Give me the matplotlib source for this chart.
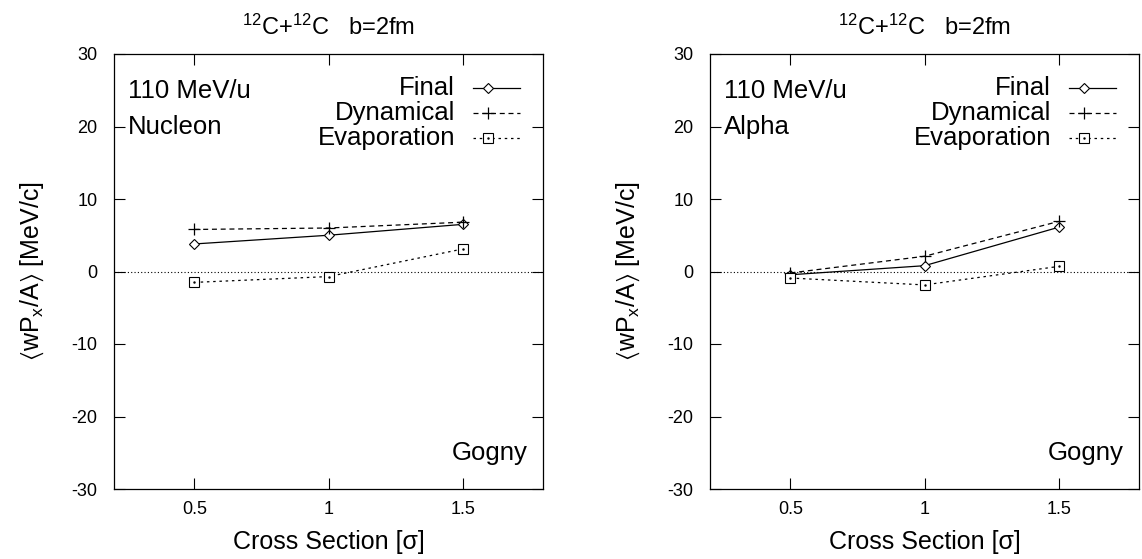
import matplotlib
matplotlib.use("Agg")
import matplotlib.pyplot as plt
from matplotlib.lines import Line2D

plt.rcParams['font.family'] = ['Liberation Sans', 'DejaVu Sans']
plt.rcParams['mathtext.fontset'] = 'custom'
plt.rcParams['mathtext.rm'] = 'Liberation Sans'
plt.rcParams['mathtext.it'] = 'Liberation Sans'
plt.rcParams['mathtext.fallback'] = 'stixsans'
plt.rcParams['axes.unicode_minus'] = False

cross_section = [0.5, 1.0, 1.5]

nucleon_final = [3.8, 5.0, 6.5]
nucleon_dynamical = [5.8, 6.0, 6.8]
nucleon_evaporation = [-1.5, -0.7, 3.1]

alpha_final = [-0.45, 0.8, 6.1]
alpha_dynamical = [-0.2, 2.1, 6.9]
alpha_evaporation = [-0.9, -1.85, 0.7]

panels = [
    ("Nucleon", nucleon_final, nucleon_dynamical, nucleon_evaporation),
    ("Alpha", alpha_final, alpha_dynamical, alpha_evaporation),
]
series_names = ["Final", "Dynamical", "Evaporation"]
xticks = [0.5, 1.0, 1.5]
xticklabels = ["0.5", "1", "1.5"]
yticks = [-30, -20, -10, 0, 10, 20, 30]

W, H = 1142, 559
fig = plt.figure(figsize=(W / 100, H / 100), dpi=100)

styles = [
    dict(color='black', lw=0.9, ls='-', marker='D', ms=5.0, mfc='white', mec='black', mew=0.8),
    dict(color='black', lw=0.9, ls=(0, (4, 3)), marker='+', ms=8, mec='black', mew=0.9),
    dict(color='black', lw=0.9, ls=(0, (2, 3)), marker='s', ms=7, mfc='white', mec='black', mew=0.8),
]

lefts = [114 / W, 710 / W]
for (name, fin, dyn, eva), left in zip(panels, lefts):
    ax = fig.add_axes([left, 70 / H, 429 / W, 435 / H])
    ax.set_xlim(0.2, 1.8)
    ax.set_ylim(-30, 30)
    ax.axhline(0, color='black', lw=0.8, ls=(0, (1, 2)), zorder=1)
    for vals, st in zip([fin, dyn, eva], styles):
        ax.plot(cross_section, vals, zorder=3, **st)
        if st['marker'] == 's':
            ax.plot(cross_section, vals, ls='none', marker='.', ms=1.5, color='black', zorder=4)
    ax.set_xticks(xticks)
    ax.set_xticklabels(xticklabels)
    ax.set_yticks(yticks)
    ax.tick_params(direction='in', length=8, width=0.8, top=True, right=True, labelsize=13)
    ax.tick_params(axis='y', pad=12)
    ax.tick_params(axis='x', pad=9)
    for sp in ax.spines.values():
        sp.set_linewidth(0.9)
    ax.set_xlabel("Cross Section [σ]", fontsize=18, labelpad=8)
    ax.set_ylabel(r"$\langle$wP$_{x}$/A$\rangle$ [MeV/c]", fontsize=18, labelpad=18)
    ax.set_title("$^{12}$C+$^{12}$C   b=2fm", fontsize=17, pad=14)

    ax.text(0.252, 24.9, "110 MeV/u", fontsize=18.5, ha='left', va='center')
    ax.text(0.252, 19.95, name, fontsize=18.5, ha='left', va='center')
    ax.text(1.741, -25.0, "Gogny", fontsize=18.5, ha='right', va='center')

    # key
    rows = [25.3, 21.9, 18.45]
    for label, st, yy in zip(series_names, styles, rows):
        ax.text(1.472, yy, label, fontsize=18.5, ha='right', va='center')
        ln = Line2D([1.54, 1.715], [yy, yy], color='black', lw=st['lw'], ls=st['ls'], clip_on=False)
        ax.add_line(ln)
        mk = {k: v for k, v in st.items() if k in ('marker', 'ms', 'mfc', 'mec', 'mew')}
        ax.plot([1.596], [yy], ls='none', clip_on=False, zorder=4, **mk)
        if st['marker'] == 's':
            ax.plot([1.596], [yy], ls='none', marker='.', ms=1.5, color='black', zorder=5)

fig.savefig("out.png", dpi=100)
